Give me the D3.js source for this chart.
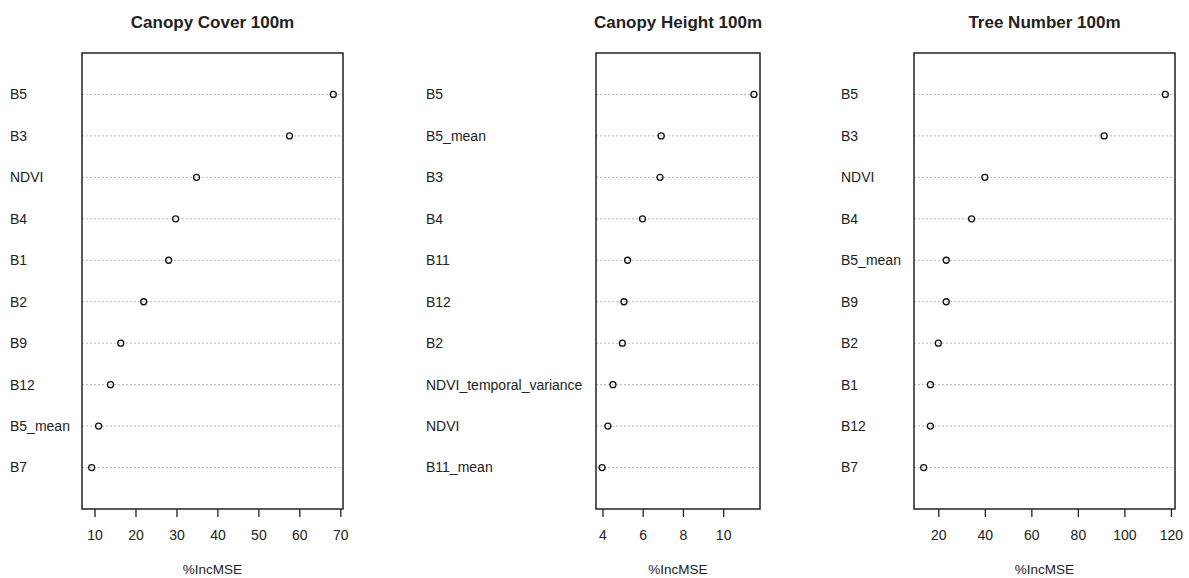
<!DOCTYPE html>
<html>
<head>
<meta charset="utf-8">
<script src="https://cdn.jsdelivr.net/npm/d3@7"></script>
<style>
  body { margin: 0; background: #fff; }
  svg { font-family: "Liberation Sans", Arial, sans-serif; }
</style>
</head>
<body>
<div id="grafico"></div>
<script>
// ---------------- Datos (de arriba hacia abajo) ----------------
const coverVars   = ["B5", "B3", "NDVI", "B4", "B1", "B2", "B9", "B12", "B5_mean", "B7"]
const coverVals   = [68.3, 57.6, 34.9, 29.8, 28.1, 22.0, 16.4, 13.9, 11.0, 9.3]
const coverTicks  = [10, 20, 30, 40, 50, 60, 70]

const heightVars  = ["B5", "B5_mean", "B3", "B4", "B11", "B12", "B2", "NDVI_temporal_variance", "NDVI", "B11_mean"]
const heightVals  = [11.53, 6.92, 6.86, 5.99, 5.25, 5.07, 4.99, 4.52, 4.27, 3.98]
const heightTicks = [4, 6, 8, 10]

const treeVars    = ["B5", "B3", "NDVI", "B4", "B5_mean", "B9", "B2", "B1", "B12", "B7"]
const treeVals    = [117.6, 91.3, 40.0, 34.3, 23.4, 23.4, 20.0, 16.6, 16.6, 13.7]
const treeTicks   = [20, 40, 60, 80, 100, 120]

const titulos = ["Canopy Cover 100m", "Canopy Height 100m", "Tree Number 100m"]
const ejeX = "%IncMSE"

// ---------------- Dibujo ----------------
const ancho = 1189, alto = 578
const cajaArriba = 53, cajaAbajo = 509

const svg = d3.select("#grafico").append("svg")
  .attr("width", ancho)
  .attr("height", alto)

const paneles = [
  {vars: coverVars,  vals: coverVals,  ticks: coverTicks,  labelX: 10,  x0: 82,  x1: 343},
  {vars: heightVars, vals: heightVals, ticks: heightTicks, labelX: 426, x0: 596, x1: 760},
  {vars: treeVars,   vals: treeVals,   ticks: treeTicks,   labelX: 841, x0: 914, x1: 1175}
]

function dotchart(p, titulo){
  const g = svg.append("g")
  const [mn, mx] = d3.extent(p.vals)
  const pad = (mx - mn) * 0.04   // como R: 4% a cada lado
  const x = d3.scaleLinear().domain([mn - pad, mx + pad]).range([p.x0, p.x1])
  const n = p.vars.length
  const y = d3.scaleLinear().domain([0, n + 1]).range([cajaAbajo, cajaArriba])
  const filas = p.vars.map((v, i) => ({nombre: v, valor: p.vals[i], pos: n - i}))

  // lineas punteadas
  g.selectAll("line.guia").data(filas).enter().append("line")
    .attr("class", "guia")
    .attr("x1", p.x0).attr("x2", p.x1)
    .attr("y1", d => y(d.pos)).attr("y2", d => y(d.pos))
    .attr("stroke", "#b8b8b8")
    .attr("stroke-width", 1)
    .attr("stroke-dasharray", "2,2")

  // etiquetas
  g.selectAll("text.etiqueta").data(filas).enter().append("text")
    .attr("class", "etiqueta")
    .attr("x", p.labelX)
    .attr("y", d => y(d.pos))
    .attr("dy", "0.35em")
    .attr("font-size", 14)
    .attr("fill", "#222")
    .text(d => d.nombre)

  // puntos
  g.selectAll("circle").data(filas).enter().append("circle")
    .attr("cx", d => x(d.valor))
    .attr("cy", d => y(d.pos))
    .attr("r", 3)
    .attr("fill", "none")
    .attr("stroke", "#111")
    .attr("stroke-width", 1.3)

  // caja
  g.append("rect")
    .attr("x", p.x0).attr("y", cajaArriba)
    .attr("width", p.x1 - p.x0).attr("height", cajaAbajo - cajaArriba)
    .attr("fill", "none")
    .attr("stroke", "#222")
    .attr("stroke-width", 1.5)

  // eje x
  const eje = g.append("g")
    .attr("transform", `translate(0, ${cajaAbajo})`)
    .call(d3.axisBottom(x).tickValues(p.ticks).tickSize(8).tickPadding(13).tickSizeOuter(0))
  eje.select(".domain").remove()
  eje.selectAll("line").attr("stroke", "#222").attr("stroke-width", 1.3)
  eje.selectAll("text")
    .attr("font-size", 14)
    .attr("font-family", "Liberation Sans, Arial, sans-serif")
    .attr("fill", "#222")

  g.append("text")
    .attr("x", (p.x0 + p.x1) / 2)
    .attr("y", 574)
    .attr("text-anchor", "middle")
    .attr("font-size", 13.5)
    .attr("fill", "#222")
    .text(ejeX)

  g.append("text")
    .attr("x", (p.x0 + p.x1) / 2)
    .attr("y", 28)
    .attr("text-anchor", "middle")
    .attr("font-size", 17)
    .attr("font-weight", "bold")
    .attr("fill", "#222")
    .text(titulo)
}

paneles.forEach((p, i) => dotchart(p, titulos[i]))
</script>
</body>
</html>
